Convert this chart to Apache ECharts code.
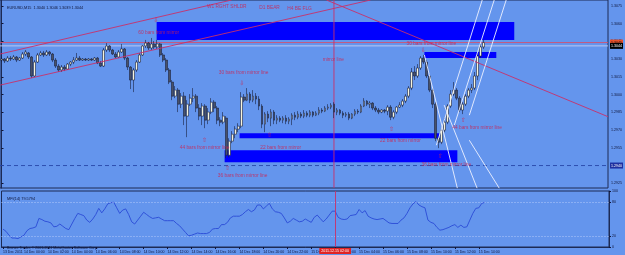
<!DOCTYPE html>
<html><head><meta charset="utf-8">
<script src="https://cdn.jsdelivr.net/npm/echarts@6/dist/echarts.min.js"></script>
<style>html,body{margin:0;padding:0;background:#6495ED;}#c{width:625px;height:255px;}</style>
</head><body><div id="c"></div>
<script>
// ---------- data ----------
const symbolHeader = 'EURUSD,M15  1.3040 1.3046 1.3039 1.3044';
const mfiHeader = 'MFI(14) 79.5794';
const copyright = 'Bronze Trader, \u00A9 2001-2011 MetaQuotes Software Corp.';
const firstBarTime = Date.UTC(2011, 11, 13, 22, 15);
const barMinutes = 15;
const slotCount = 203;          // bars + empty space to the right
const mirrorBar = 111;
const mirrorTimeText = '2011.12.15 02:00';

// [open, close, low, high]
const candles = [
[1.30292,1.30301,1.30275,1.30318],[1.30301,1.30284,1.30267,1.30309],[1.30284,1.30309,1.30275,1.30326],[1.30309,1.30301,1.30284,1.30326],
[1.30301,1.30318,1.30292,1.30335],[1.30318,1.30292,1.30275,1.30326],[1.30292,1.30309,1.30284,1.30318],[1.30309,1.30343,1.30301,1.30360],
[1.30343,1.30360,1.30326,1.30377],[1.30352,1.30318,1.30301,1.30360],[1.30318,1.30157,1.30140,1.30326],[1.30157,1.30275,1.30148,1.30292],
[1.30275,1.30335,1.30267,1.30352],[1.30335,1.30352,1.30326,1.30369],[1.30352,1.30335,1.30318,1.30369],[1.30335,1.30360,1.30326,1.30377],
[1.30360,1.30343,1.30326,1.30369],[1.30343,1.30292,1.30275,1.30352],[1.30292,1.30241,1.30225,1.30309],[1.30241,1.30208,1.30191,1.30258],
[1.30208,1.30233,1.30191,1.30250],[1.30233,1.30216,1.30199,1.30250],[1.30216,1.30258,1.30208,1.30267],[1.30258,1.30275,1.30241,1.30284],
[1.30275,1.30292,1.30258,1.30318],[1.30292,1.30309,1.30284,1.30352],[1.30309,1.30292,1.30284,1.30326],[1.30292,1.30301,1.30284,1.30309],
[1.30301,1.30292,1.30284,1.30309],[1.30292,1.30301,1.30284,1.30309],[1.30301,1.30292,1.30284,1.30309],[1.30292,1.30309,1.30284,1.30318],
[1.30309,1.30267,1.30258,1.30318],[1.30267,1.30241,1.30233,1.30284],[1.30241,1.30377,1.30233,1.30394],[1.30377,1.30411,1.30360,1.30436],
[1.30411,1.30377,1.30360,1.30419],[1.30377,1.30343,1.30335,1.30386],[1.30343,1.30318,1.30309,1.30360],[1.30318,1.30360,1.30309,1.30377],
[1.30360,1.30386,1.30352,1.30428],[1.30386,1.30309,1.30292,1.30394],[1.30309,1.30233,1.30208,1.30318],[1.30233,1.30123,1.30047,1.30241],
[1.30123,1.30208,1.30021,1.30225],[1.30208,1.30275,1.30191,1.30292],[1.30275,1.30335,1.30267,1.30352],[1.30335,1.30411,1.30326,1.30419],
[1.30411,1.30436,1.30394,1.30462],[1.30436,1.30394,1.30377,1.30445],[1.30394,1.30428,1.30377,1.30479],[1.30428,1.30403,1.30386,1.30453],
[1.30403,1.30428,1.30386,1.30462],[1.30428,1.30335,1.30318,1.30436],[1.30335,1.30292,1.30275,1.30352],[1.30292,1.30208,1.30191,1.30309],
[1.30208,1.30106,1.30089,1.30225],[1.30106,1.29987,1.29953,1.30123],[1.29987,1.30038,1.29970,1.30072],[1.30038,1.29919,1.29852,1.30055],
[1.29919,1.29987,1.29886,1.30013],[1.29987,1.29818,1.29742,1.30021],[1.29818,1.29919,1.29640,1.29953],[1.29919,1.29970,1.29903,1.30004],
[1.29970,1.29987,1.29936,1.30055],[1.29987,1.29886,1.29852,1.30004],[1.29886,1.29818,1.29784,1.29919],[1.29818,1.29903,1.29742,1.29928],
[1.29903,1.29784,1.29716,1.29919],[1.29784,1.29852,1.29750,1.29886],[1.29852,1.29936,1.29835,1.29970],[1.29936,1.29886,1.29852,1.29953],
[1.29886,1.29784,1.29750,1.29903],[1.29784,1.29767,1.29733,1.29809],[1.29767,1.29818,1.29750,1.29852],[1.29801,1.29487,1.29462,1.29818],
[1.29487,1.29606,1.29470,1.29631],[1.29606,1.29665,1.29589,1.29691],[1.29665,1.29708,1.29631,1.29733],[1.29708,1.29733,1.29682,1.29758],
[1.29733,1.29979,1.29716,1.30021],[1.29979,1.29953,1.29936,1.30004],[1.29953,1.30004,1.29945,1.30055],[1.30004,1.29953,1.29928,1.30021],
[1.29953,1.29987,1.29936,1.30038],[1.29987,1.29962,1.29919,1.30013],[1.29962,1.29903,1.29869,1.29987],[1.29903,1.29750,1.29716,1.29919],
[1.29750,1.29835,1.29682,1.29852],[1.29835,1.29801,1.29767,1.29860],[1.29801,1.29852,1.29733,1.29877],[1.29852,1.29784,1.29750,1.29869],
[1.29784,1.29801,1.29750,1.29826],[1.29801,1.29784,1.29767,1.29818],[1.29784,1.29801,1.29758,1.29818],[1.29801,1.29775,1.29750,1.29826],
[1.29775,1.29792,1.29750,1.29809],[1.29792,1.29826,1.29742,1.29843],[1.29826,1.29809,1.29784,1.29852],[1.29809,1.29835,1.29792,1.29860],
[1.29835,1.29818,1.29801,1.29852],[1.29818,1.29843,1.29801,1.29869],[1.29843,1.29826,1.29809,1.29860],[1.29826,1.29852,1.29809,1.29869],
[1.29852,1.29826,1.29809,1.29860],[1.29826,1.29843,1.29818,1.29860],[1.29843,1.29869,1.29826,1.29894],[1.29869,1.29860,1.29843,1.29886],
[1.29860,1.29886,1.29852,1.29903],[1.29886,1.29894,1.29869,1.29919],[1.29894,1.29911,1.29877,1.29928],[1.29919,1.29852,1.29801,1.29936],
[1.29852,1.29869,1.29826,1.29886],[1.29869,1.29843,1.29826,1.29877],[1.29843,1.29826,1.29801,1.29860],[1.29826,1.29835,1.29809,1.29852],
[1.29835,1.29801,1.29784,1.29852],[1.29801,1.29835,1.29792,1.29843],[1.29835,1.29860,1.29818,1.29877],[1.29860,1.29852,1.29835,1.29877],
[1.29852,1.29903,1.29843,1.29919],[1.29903,1.29945,1.29894,1.29970],[1.29945,1.29919,1.29903,1.29953],[1.29919,1.29928,1.29886,1.29945],
[1.29928,1.29886,1.29869,1.29936],[1.29886,1.29869,1.29852,1.29903],[1.29869,1.29852,1.29835,1.29886],[1.29852,1.29869,1.29843,1.29877],
[1.29869,1.29860,1.29843,1.29877],[1.29860,1.29894,1.29826,1.29911],[1.29894,1.29809,1.29784,1.29911],[1.29809,1.29852,1.29792,1.29869],
[1.29852,1.29894,1.29835,1.29903],[1.29894,1.29911,1.29886,1.29936],[1.29911,1.29945,1.29894,1.29962],[1.29945,1.29987,1.29928,1.30004],
[1.29987,1.30055,1.29970,1.30072],[1.30055,1.30191,1.30038,1.30225],[1.30191,1.30157,1.30123,1.30241],[1.30157,1.30225,1.30140,1.30258],
[1.30225,1.30309,1.30208,1.30326],[1.30309,1.30275,1.30258,1.30335],[1.30275,1.30157,1.30140,1.30292],[1.30157,1.30038,1.30021,1.30174],
[1.30038,1.29919,1.29886,1.30055],[1.29919,1.29631,1.29606,1.29936],[1.29631,1.29597,1.29547,1.29648],[1.29597,1.29699,1.29581,1.29716],
[1.29699,1.29767,1.29682,1.29801],[1.29767,1.29903,1.29750,1.29919],[1.29903,1.30004,1.29886,1.30038],[1.30004,1.30038,1.29987,1.30106],
[1.30038,1.29970,1.29953,1.30055],[1.29970,1.29869,1.29852,1.29987],[1.29869,1.29919,1.29835,1.29936],[1.29919,1.29987,1.29903,1.30004],
[1.29987,1.30038,1.29970,1.30055],[1.30038,1.30055,1.30013,1.30089],[1.30055,1.30157,1.30038,1.30191],[1.30157,1.30326,1.30123,1.30360],
[1.30326,1.30403,1.30309,1.30428],[1.30403,1.30440,1.30386,1.30462]
];

const mfi = [
32,28,21,16,16,15,18,21,29,33, 34,36,51,49,46,45,43,36,37,41,
37,33,31,41,51,60,58,56,48,44, 50,58,69,61,68,77,79,80,70,60,
66,68,58,45,41,48,55,62,58,54, 51,52,53,50,47,47,47,47,42,38,
32,26,20,21,23,25,24,24,24,26, 32,33,33,40,40,44,52,55,55,55,
58,63,67,63,66,75,75,68,73,78, 68,63,62,60,52,43,46,51,48,45,
46,50,47,44,53,57,51,45,50,57, 64,64,53,50,49,50,56,57,58,67,
61,65,55,52,50,49,50,51,47,43, 42,42,42,48,52,60,70,77,81,75,
72,70,48,44,42,35,30,31,33,35, 38,40,35,39,35,36,48,60,69,70,
78,79.58
];

const priceTicks = [1.2925,1.2940,1.2955,1.2970,1.2985,1.3000,1.3015,1.3030,1.3045,1.3060,1.3075];
const mfiTicks = [0,20,80,100];
const mfiLevels = [20,80];

// rectangles: [barFrom, priceTop, barTo, priceBottom]
const rects = [
  [51.8,1.30614,171.2,1.30462],
  [141.2,1.30360,165.2,1.30309],
  [79.5,1.29674,146.2,1.29631],
  [74.5,1.29530,152.2,1.29428]
];
// red trend lines [[bar,price],[bar,price]]
const redLines = [
  [[-0.5,1.30343],[76.8,1.30800]],
  [[-0.5,1.30080],[123.2,1.30800]],
  [[108.5,1.30800],[202.5,1.29813]]
];
// white channel lines
const whiteLines = [
  [[145.2,1.29572],[160.5,1.30800]],
  [[151.2,1.29742],[164.5,1.30800]],
  [[156.2,1.29826],[168.5,1.30800]],
  [[141.2,1.30335],[152.2,1.29208]],
  [[147.8,1.29911],[158.8,1.29208]],
  [[156.2,1.29614],[166.2,1.29208]]
];
// horizontal levels: [price, axis text]
const levelRed = [1.30440, '1.3045'];
const levelBid = [1.30412, '1.3044'];
const levelDash = [1.2940, '1.2940'];

// text objects [bar, price, text]
const notes = [
  [75.2,1.30742,'W1 RGHT SHLDR'],
  [89.5,1.30733,'D1 BEAR'],
  [99.5,1.30725,'H4 BE FLG'],
  [52.5,1.30521,'60 bars from mirror'],
  [143.5,1.30428,'30 bars from mirror line'],
  [110.8,1.30292,'mirror line'],
  [80.8,1.30182,'30 bars from mirror line'],
  [67.8,1.29547,'44 bars from mirror line'],
  [93.2,1.29555,'22 bars from mirror'],
  [133.2,1.29606,'22 bars from mirror'],
  [158.8,1.29716,'44 bars from mirror line'],
  [80.5,1.29318,'36 bars from mirror line'],
  [148.5,1.29411,'36 bars from mirror line']
];
const arrows = [
  [51.5,1.30631,'\u21E9'],[140.8,1.30377,'\u21E9'],[80.2,1.30097,'\u21E9'],
  [67.8,1.29614,'\u21E7'],[89.5,1.29657,'\u21E7'],[130.2,1.29708,'\u21E7'],
  [154.2,1.29784,'\u21E7'],[75.5,1.29377,'\u21E7'],[146.5,1.29479,'\u21E7']
];

// ---------- build ----------
const MON = ['Jan','Feb','Mar','Apr','May','Jun','Jul','Aug','Sep','Oct','Nov','Dec'];
const p2 = n => String(n).padStart(2,'0');
const categories = [];
for (let i = 0; i < slotCount; i++) {
  const d = new Date(firstBarTime + i * barMinutes * 60000);
  categories.push(i === 0 ? d.getUTCDate() + ' ' + MON[d.getUTCMonth()] + ' ' + d.getUTCFullYear()
    : d.getUTCDate() + ' ' + MON[d.getUTCMonth()] + ' ' + p2(d.getUTCHours()) + ':' + p2(d.getUTCMinutes()));
}
const barCount = candles.length;
const showTick = i => i < barCount && (i === 0 || i % 8 === 7);
const X0 = -0.5, X1 = slotCount - 0.5;
const YMIN = 1.2921, YMAX = 1.3080;

const FONT = 'Liberation Sans';
const DARK = '#10163a';
const RED = '#c8306a';
const TXT = '#d0204e';

const chart = echarts.init(document.getElementById('c'), null, {renderer: 'canvas'});
const series = [];

series.push({
  type: 'custom', xAxisIndex: 2, yAxisIndex: 0, z: 1, clip: true,
  data: rects,
  renderItem: (params, api) => {
    const a = api.coord([api.value(0), api.value(1)]);
    const b = api.coord([api.value(2), api.value(3)]);
    return {type: 'rect', shape: {x: a[0], y: a[1], width: b[0] - a[0], height: b[1] - a[1]},
            style: {fill: '#0000ff'}};
  },
  encode: {x: [0, 2], y: [1, 3]}
});

// horizontal levels as line series with axis boxes at their right end
function level(lv, color, type, boxBg, boxColor) {
  return {
    type: 'line', xAxisIndex: 2, yAxisIndex: 0, z: 2, silent: true, showSymbol: false, clip: false,
    data: [[X0, lv[0]], [X1, lv[0]]],
    lineStyle: {color: color, width: 0.9, type: type},
    endLabel: {show: true, formatter: lv[1], backgroundColor: boxBg, color: boxColor,
               fontSize: 3.6, fontFamily: FONT, padding: [1, 1], distance: 2}
  };
}
series.push(level(levelDash, '#2846a8', [4, 3], '#1e30a0', '#ffffff'));
series.push(level(levelRed, '#d2506e', 'solid', '#e8502a', '#101010'));
series.push(level(levelBid, '#c4cdf2', 'solid', '#000000', '#ffffff'));

// mirror line (vertical) in the price window
series.push({
  type: 'line', xAxisIndex: 2, yAxisIndex: 0, z: 2, silent: true, showSymbol: false,
  data: [[mirrorBar, YMIN], [mirrorBar, YMAX]],
  lineStyle: {color: RED, width: 0.9}
});

series.push({
  type: 'candlestick', xAxisIndex: 0, yAxisIndex: 0, z: 3,
  data: candles, barWidth: 2.3,
  itemStyle: {color: '#f6f4dc', color0: '#4a5266', borderColor: '#1a2240', borderColor0: '#1a2240', borderWidth: 0.6}
});

redLines.forEach(ln => series.push({
  type: 'line', xAxisIndex: 2, yAxisIndex: 0, z: 4, data: ln, showSymbol: false, silent: true,
  lineStyle: {color: RED, width: 0.9}
}));

whiteLines.forEach(ln => series.push({
  type: 'line', xAxisIndex: 2, yAxisIndex: 0, z: 4, data: ln, showSymbol: false, silent: true,
  lineStyle: {color: '#eef2ff', width: 0.9}
}));

series.push({
  type: 'scatter', xAxisIndex: 2, yAxisIndex: 0, z: 6, symbolSize: 0, silent: true,
  data: notes.map(n => ({value: [n[0], n[1]], name: n[2]})),
  label: {show: true, position: 'inside', formatter: p => p.name, color: TXT, fontSize: 4.8, fontFamily: FONT}
});
series.push({
  type: 'scatter', xAxisIndex: 2, yAxisIndex: 0, z: 6, symbolSize: 0, silent: true,
  data: arrows.map(n => ({value: [n[0], n[1]], name: n[2]})),
  label: {show: true, position: 'inside', formatter: p => p.name, color: TXT, fontSize: 6, fontFamily: 'DejaVu Sans'}
});

series.push({
  type: 'line', xAxisIndex: 1, yAxisIndex: 1, z: 3, data: mfi, showSymbol: false, silent: true,
  lineStyle: {color: '#2a4bd6', width: 0.9},
  markLine: {
    symbol: 'none', silent: true, animation: false,
    data: mfiLevels.map(v => ({yAxis: v, lineStyle: {color: '#c8d6ff', width: 0.8, type: [1, 2]}, label: {show: false}}))
      .concat([{xAxis: mirrorBar, lineStyle: {color: RED, width: 0.9, type: 'solid'},
        label: {show: true, position: 'start', formatter: mirrorTimeText, backgroundColor: '#e02424', color: '#ffffff',
                fontSize: 3.6, fontFamily: FONT, padding: [1, 2], distance: 1}}])
  }
});

chart.setOption({
  animation: false,
  backgroundColor: '#6495ED',
  textStyle: {fontFamily: FONT},
  title: [
    {text: symbolHeader, left: 2, top: 1, textStyle: {fontSize: 3.8, color: DARK, fontWeight: 'normal', fontFamily: FONT}},
    {text: mfiHeader, left: 2, top: 192, textStyle: {fontSize: 3.8, color: DARK, fontWeight: 'normal', fontFamily: FONT}},
    {text: copyright, left: 2, top: 241, textStyle: {fontSize: 3.6, color: DARK, fontWeight: 'normal', fontFamily: FONT}}
  ],
  grid: [
    {left: 0, right: 16, top: 0, height: 188, show: true, borderColor: '#1c2a55', borderWidth: 1, backgroundColor: 'transparent'},
    {left: 0, right: 16, top: 191, height: 56, show: true, borderColor: '#1c2a55', borderWidth: 1, backgroundColor: 'transparent'}
  ],
  xAxis: [
    {type: 'category', gridIndex: 0, data: categories, show: false},
    {type: 'category', gridIndex: 1, data: categories,
     axisLine: {show: true, lineStyle: {color: '#1c2a55', width: 1}},
     axisTick: {show: true, interval: (i) => showTick(i), alignWithLabel: true, length: 2, lineStyle: {color: DARK}},
     axisLabel: {show: true, interval: (i) => showTick(i), align: 'left', fontSize: 3.5, color: DARK, margin: 3, fontFamily: FONT}},
    {type: 'value', gridIndex: 0, min: X0, max: X1, show: false}
  ],
  yAxis: [
    {type: 'value', gridIndex: 0, position: 'right', min: YMIN, max: YMAX,
     splitLine: {show: false},
     axisLine: {show: true, lineStyle: {color: '#1c2a55'}},
     axisTick: {show: true, customValues: priceTicks, length: 2, lineStyle: {color: DARK}},
     axisLabel: {show: true, customValues: priceTicks, formatter: v => v.toFixed(4), fontSize: 3.6, color: DARK, margin: 3, fontFamily: FONT}},
    {type: 'value', gridIndex: 1, position: 'right', min: 0, max: 100,
     splitLine: {show: false},
     axisLine: {show: true, lineStyle: {color: '#1c2a55'}},
     axisTick: {show: true, customValues: mfiTicks, length: 2, lineStyle: {color: DARK}},
     axisLabel: {show: true, customValues: mfiTicks, fontSize: 3.6, color: DARK, margin: 3, fontFamily: FONT}}
  ],
  series: series
});
</script></body></html>
